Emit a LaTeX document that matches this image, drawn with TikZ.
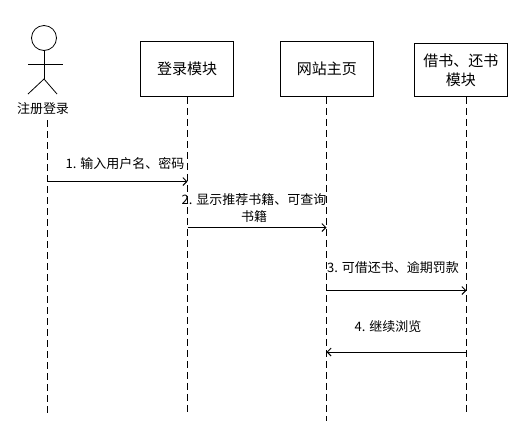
\documentclass[tikz,border=0pt]{standalone}
\usepackage{fontspec}
\setmainfont{Noto Sans CJK SC}
\usepackage{tikz}
\usetikzlibrary{arrows.meta, positioning}

\begin{document}
\begin{tikzpicture}[
        x=1pt, y=-1pt,
        every node/.style={font=\fontsize{13}{17}\selectfont, inner sep=0pt},
        module/.style={
            rectangle,
            draw=black,
            line width=0.9pt,
            fill=white,
            minimum width=93pt,
            minimum height=55pt,
            align=center,
            font=\fontsize{15}{19}\selectfont
        },
        head/.style={circle, draw=black, line width=0.8pt, minimum size=25pt},
        limb/.style={draw=black, line width=0.8pt},
        lifeline/.style={draw=black, line width=0.8pt, dash pattern=on 7pt off 4pt},
        message/.style={-{Straight Barb[length=4pt, width=8pt]}, draw=black, line width=0.9pt},
        msglabel/.style={align=center}
    ]

    \useasboundingbox (0,0) rectangle (523,437);

    % actor
    \node (head) [head] at (44,38) {};
    \coordinate (hip) at (44,79);
    \coordinate (armleft) at (28,64);
    \coordinate (armright) at (63,64);
    \coordinate (legleft) at (28,94);
    \coordinate (legright) at (57,94);
    \node (actor) [below=8pt of legleft, xshift=15pt] {注册登录};
    \draw [limb] (head) -- (hip);
    \draw [limb] (armleft) -- (armright);
    \draw [limb] (legleft) -- (hip) -- (legright);

    % modules
    \node (login) [module] at (187,69) {登录模块};
    \node (home)  [module, right=46pt of login] {网站主页};
    \node (lend)  [module, right=40pt of home, minimum height=53pt, yshift=-1pt] {借书、还书\\模块};

    % lifelines
    \coordinate (actortop) at (47.5,120);
    \coordinate (actorend) at (47.5,414);
    \coordinate (loginend) at (187.5,414);
    \coordinate (homeend)  at (326.5,421);
    \coordinate (lendend)  at (466.5,414);
    \draw [lifeline] (actortop) -- (actorend);
    \draw [lifeline] (login.south -| loginend) -- (loginend);
    \draw [lifeline] (home.south -| homeend) -- (homeend);
    \draw [lifeline] (lend.south -| lendend) -- (lendend);

    % messages
    \coordinate (msgone)   at (0,181.5);
    \coordinate (msgtwo)   at (0,227.5);
    \coordinate (msgthree) at (0,290.5);
    \coordinate (msgfour)  at (0,352);
    \draw [message] (actorend |- msgone) -- (loginend |- msgone);
    \draw [message] (loginend |- msgtwo) -- (homeend |- msgtwo);
    \draw [message] (homeend |- msgthree) -- (lendend |- msgthree);
    \draw [message] (lendend |- msgfour) -- (homeend |- msgfour);

    \node (labelone)   [msglabel] at (125,164) {1. 输入用户名、密码};
    \node (labeltwo)   [msglabel] at (254,208) {2. 显示推荐书籍、可查询\\书籍};
    \node (labelthree) [msglabel] at (393,268) {3. 可借还书、逾期罚款};
    \node (labelfour)  [msglabel] at (388,327) {4. 继续浏览};

\end{tikzpicture}
\end{document}
